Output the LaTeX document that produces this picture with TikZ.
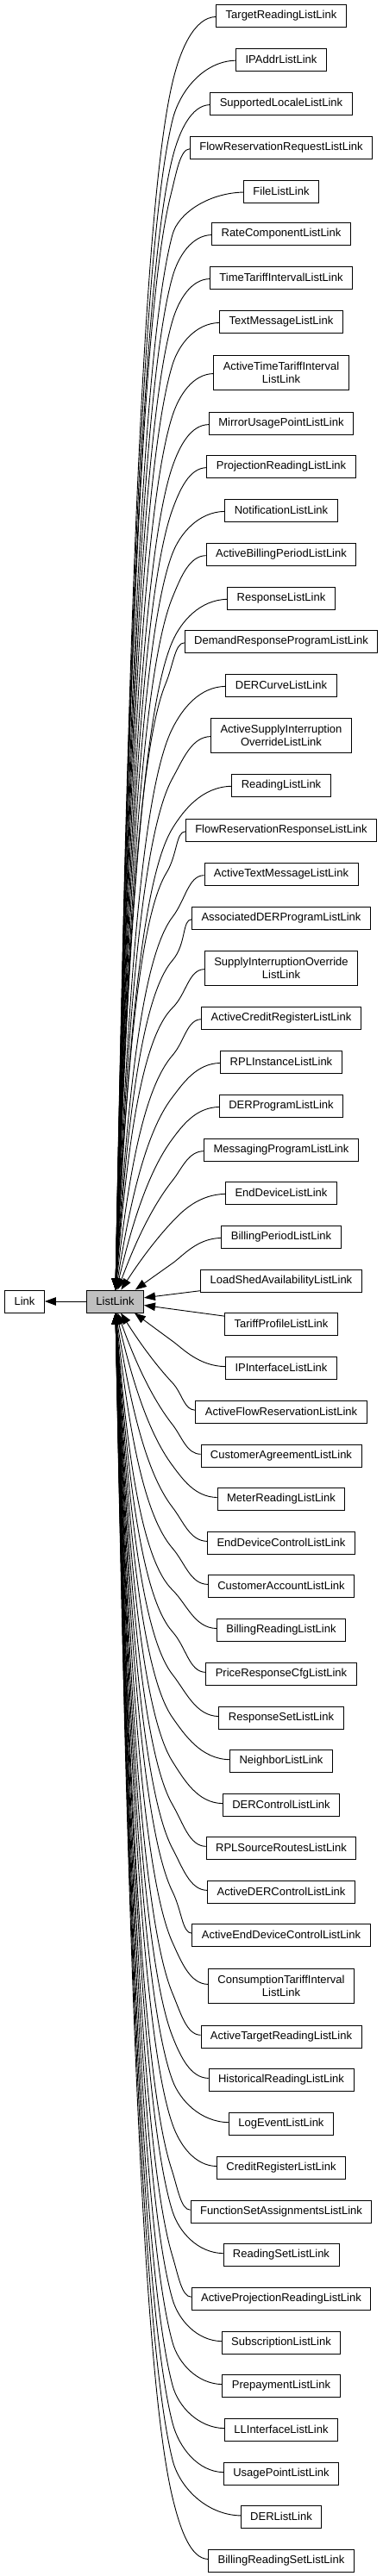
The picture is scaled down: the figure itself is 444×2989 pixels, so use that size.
\documentclass[tikz,border=0pt]{standalone}
\usepackage{fontspec}
\setmainfont{Liberation Sans}
\usetikzlibrary{arrows.meta}
\newdimen\edgexl
\def\childlist{%
1/18/0/TargetReadingListLink,
2/69/0/IPAddrListLink,
3/120/0/SupportedLocaleListLink,
4/171/0/FlowReservationRequestListLink,
5/222/0/FileListLink,
6/271/0/RateComponentListLink,
7/322/0/TimeTariffIntervalListLink,
8/373/0/TextMessageListLink,
9/432/1/{ActiveTimeTariffInterval\\ListLink},
10/491/0/MirrorUsagePointListLink,
11/541/0/ProjectionReadingListLink,
12/592/0/NotificationListLink,
13/643/0/ActiveBillingPeriodListLink,
14/694/0/ResponseListLink,
15/744/0/DemandResponseProgramListLink,
16/795/0/DERCurveListLink,
17/853/1/{ActiveSupplyInterruption\\OverrideListLink},
18/911/0/ReadingListLink,
19/963/0/FlowReservationResponseListLink,
20/1014/0/ActiveTextMessageListLink,
21/1065/0/AssociatedDERProgramListLink,
22/1123/1/{SupplyInterruptionOverride\\ListLink},
23/1181/0/ActiveCreditRegisterListLink,
24/1232/0/RPLInstanceListLink,
25/1283/0/DERProgramListLink,
26/1334/0/MessagingProgramListLink,
27/1384/0/EndDeviceListLink,
28/1435/0/BillingPeriodListLink,
29/1486/0/LoadShedAvailabilityListLink,
30/1536/0/TariffProfileListLink,
31/1587/0/IPInterfaceListLink,
32/1638/0/ActiveFlowReservationListLink,
33/1689/0/CustomerAgreementListLink,
34/1739/0/MeterReadingListLink,
35/1790/0/EndDeviceControlListLink,
36/1840/0/CustomerAccountListLink,
37/1891/0/BillingReadingListLink,
38/1942/0/PriceResponseCfgListLink,
39/1993/0/ResponseSetListLink,
40/2043/0/NeighborListLink,
41/2094/0/DERControlListLink,
42/2144/0/RPLSourceRoutesListLink,
43/2195/0/ActiveDERControlListLink,
44/2245/0/ActiveEndDeviceControlListLink,
45/2304/1/{ConsumptionTariffInterval\\ListLink},
46/2363/0/ActiveTargetReadingListLink,
47/2413/0/HistoricalReadingListLink,
48/2464/0/LogEventListLink,
49/2515/0/CreditRegisterListLink,
50/2566/0/FunctionSetAssignmentsListLink,
51/2616/0/ReadingSetListLink,
52/2667/0/ActiveProjectionReadingListLink,
53/2718/0/SubscriptionListLink,
54/2768/0/PrepaymentListLink,
55/2819/0/LLInterfaceListLink,
56/2870/0/UsagePointListLink,
57/2920/0/DERListLink,
58/2971/0/BillingReadingSetListLink}
\begin{document}
\begin{tikzpicture}[x=1pt,y=-1pt,
  box/.style={draw=black, fill=white, line width=0.9pt, font=\fontsize{13}{15}\selectfont,
    inner xsep=11pt, inner ysep=2pt, minimum height=26pt, align=center},
  s0/.style={},
  s1/.style={minimum height=40pt},
  edge/.style={draw=black, line width=0.9pt, arrows={Triangle[length=13pt,width=9.5pt]-}}]
\useasboundingbox (0,0) rectangle (444,2989);
\node[box] (link) at (28.5,1510) {Link};
\node[box, fill=black!25] (LL) at (133.5,1510) {ListLink};
\draw[edge] (link) -- (LL);
\foreach \ci/\yc/\dl/\txt in \childlist {\node[box,s\dl] (c\ci) at (326,\yc) {\txt};}
\foreach \ci/\yc/\dl/\txt in \childlist {
  \pgfmathsetmacro\hh{abs(1510-\yc)}
  \ifdim\hh pt<40pt
    \draw[edge] (LL) -- (c\ci);
  \else
    \pgfmathsetmacro\sg{(\yc<1510) ? 1 : -1}
    \pgfextractx{\edgexl}{\pgfpointanchor{c\ci}{west}}
    \pgfmathsetmacro\xl{\edgexl}
    \pgfmathsetmacro\mm{min(50,27+0.05*\hh)+max(0,(\hh-1300)/7)}
    \pgfmathsetmacro\Mx{min(200,\xl-22)}
    \pgfmathsetmacro\My{\yc+\sg*\mm}
    \pgfmathtruncatemacro\ts{89-59*exp(-min(\hh-75,400)/60)}
    \pgfmathtruncatemacro\ang{\sg*\ts}
    \pgfmathsetmacro\Sx{133.5+13/tan(\ts)}
    \pgfmathsetmacro\Sy{1510-\sg*13}
    \pgfmathsetmacro\Hp{abs(\Sy-\yc)}
    \pgfmathsetmacro\uo{\mm/\Hp}
    \pgfmathsetmacro\ww{max(0,min(1,(\hh-75)/300))}
    \pgfmathsetmacro\Af{(1-\ww)*0.6667+\ww*0.45}
    \pgfmathsetmacro\Au{\uo+(1-\uo)*((1-\ww)*0.3333+\ww*0.11)}
    \pgfmathsetmacro\Bf{(1-\ww)*0.3333+\ww*0.2}
    \pgfmathsetmacro\Bu{\uo+(1-\uo)*((1-\ww)*0.6667+\ww*0.5)}
    \pgfmathsetmacro\Qax{\Sx+(\Mx-\Sx)*\Af}
    \pgfmathsetmacro\Qay{\yc+\sg*\Au*\Hp}
    \pgfmathsetmacro\Qbx{\Sx+(\Mx-\Sx)*\Bf}
    \pgfmathsetmacro\Qby{\yc+\sg*\Bu*\Hp}
    \pgfmathsetmacro\ddx{\Mx-\Qax}
    \pgfmathsetmacro\ddy{\My-\Qay}
    \pgfmathsetmacro\ll{veclen(\ddx,\ddy)}
    \pgfmathsetmacro\ee{0.5*\mm}
    \pgfmathsetmacro\Cax{\Mx+\ee*\ddx/\ll}
    \pgfmathsetmacro\Cay{\My+\ee*\ddy/\ll}
    \pgfmathsetmacro\Cbx{\xl-0.5*(\xl-\Mx)}
    \pgfmathsetmacro\Cby{\yc+\sg*2}
    \draw[edge] (LL.\ang) .. controls (\Qbx,\Qby) and (\Qax,\Qay) .. (\Mx,\My)
       .. controls (\Cax,\Cay) and (\Cbx,\Cby) .. (c\ci);
  \fi
}
\end{tikzpicture}
\end{document}
